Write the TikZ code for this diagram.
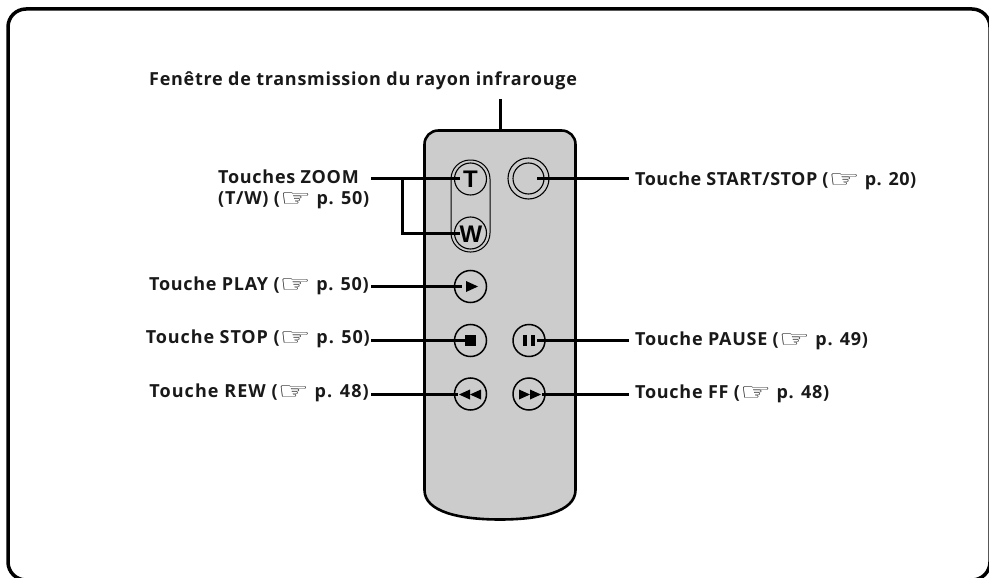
\documentclass[tikz,border=0pt]{standalone}
\usepackage{fontspec}
\setmainfont{Open Sans}[LetterSpace=4]
\newfontfamily\handfont{DejaVu Sans}
\newfontfamily\btnfont{Liberation Sans}
\newcommand{\hand}{{\handfont\mdseries\fontsize{24pt}{14pt}\selectfont\raisebox{-2.2pt}{\scalebox{1.45}[1]{\symbol{"261E}}}}}
\definecolor{remote}{gray}{0.80}
\tikzset{
  x=1pt,y=-1pt,
  lbl/.style={font=\fontsize{18pt}{19pt}\selectfont\bfseries,text=black!90,inner sep=0pt,align=left},
  leader/.style={line width=3pt,black},
  btn/.style={circle,draw=black,line width=1.5pt,minimum size=32pt,inner sep=0pt},
  btnthin/.style={circle,draw=black,line width=1.1pt,inner sep=0pt},
  btnletter/.style={font=\btnfont\fontsize{24pt}{24pt}\selectfont\bfseries,inner sep=0pt},
}
\begin{document}
\begin{tikzpicture}
\useasboundingbox (0,0) rectangle (989,578);
\draw[line width=3.5pt,black,rounded corners=18pt] (8,9) rectangle (990,580);
% remote
\draw[line width=2.6pt,fill=remote] (424.5,144.5) .. controls (424.5,136.5) and (430.5,130.5) .. (438.5,130.5)
  -- (561.5,130.5) .. controls (569.5,130.5) and (575.5,136.5) .. (575.5,144.5)
  -- (575.5,490) .. controls (575.5,512) and (540,519.5) .. (500,519.5)
  .. controls (460,519.5) and (424.5,512) .. (424.5,490) -- cycle;
% zoom pill
\draw[line width=1pt,rounded corners=19pt] (451,160) rectangle (490,252);
\node[btnthin,minimum size=32pt] (T) at (470.5,179) {};
\node[btnthin,minimum size=32pt] (W) at (470.5,233) {};
\node[btnletter] (Tl) at (470.5,179) {T};
\node[btnletter] (Wl) at (471,234) {W};
% start stop
\node[btnthin,minimum size=41pt] (SS) at (528.5,178.5) {};
\node[btnthin,minimum size=31pt] (SSi) at (528.5,178.5) {};
% small buttons
\node[btn] (play) at (470.5,286.5) {};
\node[btn] (stop) at (470.5,340.5) {};
\node[btn] (rew) at (470.5,394) {};
\node[btn] (pause) at (529,340.5) {};
\node[btn] (ff) at (529,394) {};
\coordinate (playc) at (462,286);
\coordinate (stopc) at (466,340);
\coordinate (rewc) at (458,394);
\coordinate (pausec) at (537,340);
\coordinate (ffc) at (542,394);
\coordinate (ssc) at (537,178);
\coordinate (tc) at (460,178);
\coordinate (wc) at (460,233);
% labels
\node[lbl,anchor=base west] (ir) at (149,86) {Fenêtre de transmission du rayon infrarouge};
\coordinate (irtop) at (500,99);
\coordinate (remtop) at (500,130);
\node[lbl,anchor=base west] (zoom) at (218,183) {Touches ZOOM};
\node[lbl,anchor=base west] (zoomb) at (218,204) {(T/W) (\hand{} p. 50)};
\node[lbl,anchor=base east] (lplay) at (369,290) {Touche PLAY (\hand{} p. 50)};
\node[lbl,anchor=base east] (lstop) at (370,343) {\addfontfeature{LetterSpace=5}Touche STOP (\hand{} p. 50)};
\node[lbl,anchor=base east] (lrew) at (369,397) {\addfontfeature{LetterSpace=6}Touche REW (\hand{} p. 48)};
\node[lbl,anchor=base west] (lss) at (635,185) {\addfontfeature{LetterSpace=2.5}Touche START/STOP (\hand{} p. 20)};
\node[lbl,anchor=base west] (lpause) at (635,345) {Touche PAUSE (\hand{} p. 49)};
\node[lbl,anchor=base west] (lff) at (635,398) {Touche FF (\hand{} p. 48)};
% leaders
\coordinate (zs) at (371,178);
\coordinate (zb) at (402.5,178);
\coordinate (zc) at (402.5,233);
\coordinate (lpe) at (371,286);
\coordinate (lse) at (371,340);
\coordinate (lre) at (371,394);
\coordinate (rss) at (629,178);
\coordinate (rpa) at (629,340);
\coordinate (rff) at (629,394);
\draw[leader] (irtop) -- (remtop);
\draw[leader] (zs) -- (tc);
\draw[leader] (zb) -- (zc) -- (wc);
\draw[leader] (lpe) -- (playc);
\draw[leader] (lse) -- (stopc);
\draw[leader] (lre) -- (rewc);
\draw[leader] (ssc) -- (rss);
\draw[leader] (pausec) -- (rpa);
\draw[leader] (ffc) -- (rff);
% symbols
\fill (466,281) -- (478,286.5) -- (466,292) -- cycle;
\fill (465,335) rectangle (476,346);
\fill (523,335) rectangle (527,346);
\fill (531,335) rectangle (535,346);
\fill (459,394.5) -- (470,389.5) -- (470,399.5) -- cycle;
\fill (470,394.5) -- (481,389.5) -- (481,399.5) -- cycle;
\fill (541,394.5) -- (530,389.5) -- (530,399.5) -- cycle;
\fill (530,394.5) -- (519,389.5) -- (519,399.5) -- cycle;
\end{tikzpicture}
\end{document}
